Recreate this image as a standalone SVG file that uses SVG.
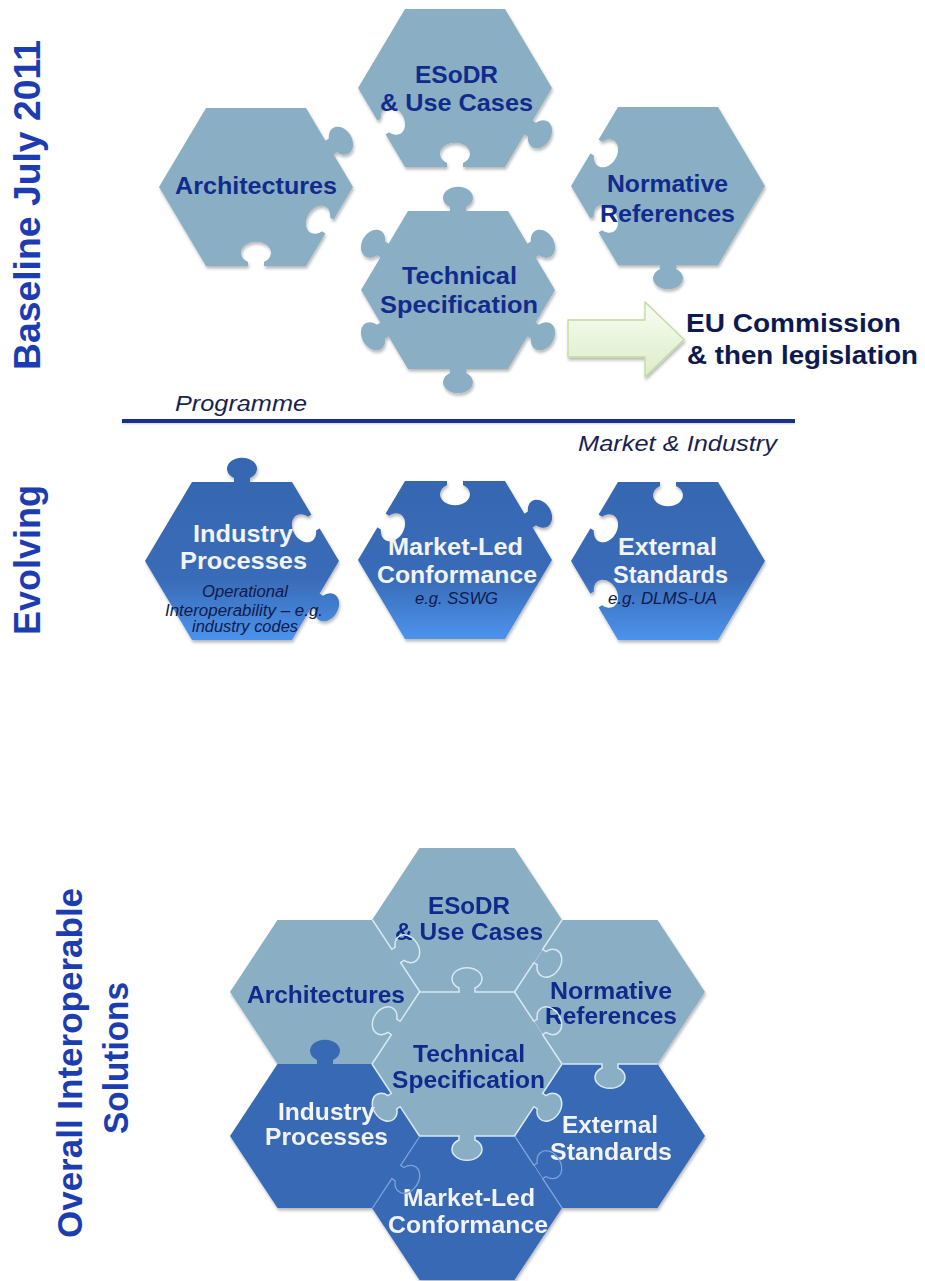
<svg xmlns="http://www.w3.org/2000/svg" width="925" height="1281" viewBox="0 0 925 1281">
<style>
text{font-family:"Liberation Sans",Arial,Helvetica,sans-serif}
.lt{fill:#8aaec4}
.ev{fill:url(#gEv)}
.cl{fill:#8aaec4}
.cd{fill:#3869b5}
.sl{fill:none;stroke:#d9e9f3;stroke-width:1.5}
.sd{fill:none;stroke:#7ba3dc;stroke-width:1.3}
.lb{font-weight:bold;font-size:24px;text-anchor:middle;fill:#112b8c}
.lw{font-weight:bold;font-size:24px;text-anchor:middle;fill:#f3f3f3}
.c23{font-size:23px}
.it{font-style:italic;font-size:16px;text-anchor:middle;fill:#111a4a}
.side{font-weight:bold;font-size:36px;text-anchor:middle;fill:#1c3cb2}
.eu{font-weight:bold;font-size:26px;fill:#0e1a4f}
.pg{font-style:italic;font-size:22px;fill:#1a1f50}
</style>
<defs>
<polygon id="hx" points="-97,0 -50,-79 50,-79 97,0 50,79 -50,79"/>
<polygon id="hc" points="-95,0 -47.5,-72 47.5,-72 95,0 47.5,72 -47.5,72"/>
<path id="tf" d="M-8,2.5 L-8,-4 A15,11 0 1 1 8,-4 L8,2.5 Z"/>
<path id="sH" d="M-47.5,0 L-8,0 L-8,-4 A15,11 0 1 1 8,-4 L8,0 L47.5,0"/>
<path id="sS" d="M-43.13,0 L-8,0 L-8,-4 A15,11 0 1 1 8,-4 L8,0 L43.13,0"/>
<linearGradient id="gEv" gradientUnits="userSpaceOnUse" x1="0" y1="-79" x2="0" y2="79">
<stop offset="0" stop-color="#3667b1"/><stop offset="0.62" stop-color="#396cb8"/><stop offset="1" stop-color="#4c93ec"/>
</linearGradient>
<linearGradient id="gAr" x1="0" y1="0" x2="0" y2="1">
<stop offset="0" stop-color="#f8fcf3"/><stop offset="1" stop-color="#dcedc8"/>
</linearGradient>
<filter id="sh" x="-20%" y="-20%" width="140%" height="150%">
<feDropShadow dx="1" dy="2.5" stdDeviation="1.8" flood-color="#000" flood-opacity="0.28"/>
</filter>
<mask id="mE" maskUnits="userSpaceOnUse" x="-130" y="-130" width="260" height="260">
<use href="#hx" fill="#fff"/>
<use href="#tf" fill="#fff" transform="translate(73.5,39.5) rotate(120.75)"/>
<use href="#tf" fill="#000" transform="translate(-73.5,39.5) rotate(-120.75) scale(1,-1)"/>
<use href="#tf" fill="#000" transform="translate(0,79) rotate(180) scale(1,-1)"/>
</mask>
<mask id="mA" maskUnits="userSpaceOnUse" x="-130" y="-130" width="260" height="260">
<use href="#hx" fill="#fff"/>
<use href="#tf" fill="#fff" transform="translate(73.5,-39.5) rotate(59.25)"/>
<use href="#tf" fill="#000" transform="translate(73.5,39.5) rotate(120.75) scale(1,-1)"/>
<use href="#tf" fill="#000" transform="translate(0,79) rotate(180) scale(1,-1)"/>
</mask>
<mask id="mN" maskUnits="userSpaceOnUse" x="-130" y="-130" width="260" height="260">
<use href="#hx" fill="#fff"/>
<use href="#tf" fill="#fff" transform="translate(0,79) rotate(180)"/>
<use href="#tf" fill="#000" transform="translate(-73.5,-39.5) rotate(-59.25) scale(1,-1)"/>
<use href="#tf" fill="#000" transform="translate(-73.5,39.5) rotate(-120.75) scale(1,-1)"/>
</mask>
<mask id="mT" maskUnits="userSpaceOnUse" x="-130" y="-130" width="260" height="260">
<use href="#hx" fill="#fff"/>
<use href="#tf" fill="#fff" transform="translate(-73.5,-39.5) rotate(-59.25)"/>
<use href="#tf" fill="#fff" transform="translate(0,-79)"/>
<use href="#tf" fill="#fff" transform="translate(73.5,-39.5) rotate(59.25)"/>
<use href="#tf" fill="#fff" transform="translate(73.5,39.5) rotate(120.75)"/>
<use href="#tf" fill="#fff" transform="translate(0,79) rotate(180)"/>
<use href="#tf" fill="#fff" transform="translate(-73.5,39.5) rotate(-120.75)"/>
</mask>
<mask id="mI" maskUnits="userSpaceOnUse" x="-130" y="-130" width="260" height="260">
<use href="#hx" fill="#fff"/>
<use href="#tf" fill="#fff" transform="translate(0,-79)"/>
<use href="#tf" fill="#fff" transform="translate(73.5,39.5) rotate(120.75)"/>
<use href="#tf" fill="#000" transform="translate(73.5,-39.5) rotate(59.25) scale(1,-1)"/>
</mask>
<mask id="mM" maskUnits="userSpaceOnUse" x="-130" y="-130" width="260" height="260">
<use href="#hx" fill="#fff"/>
<use href="#tf" fill="#fff" transform="translate(73.5,-39.5) rotate(59.25)"/>
<use href="#tf" fill="#000" transform="translate(0,-79) scale(1,-1)"/>
<use href="#tf" fill="#000" transform="translate(-73.5,-39.5) rotate(-59.25) scale(1,-1)"/>
</mask>
<mask id="mX" maskUnits="userSpaceOnUse" x="-130" y="-130" width="260" height="260">
<use href="#hx" fill="#fff"/>
<use href="#tf" fill="#000" transform="translate(0,-79) scale(1,-1)"/>
<use href="#tf" fill="#000" transform="translate(-73.5,-39.5) rotate(-59.25) scale(1,-1)"/>
<use href="#tf" fill="#000" transform="translate(-73.5,39.5) rotate(-120.75) scale(1,-1)"/>
</mask>
</defs>

<rect width="925" height="1281" fill="#fff"/>

<!-- side labels -->
<text class="side" transform="translate(40,205) rotate(-90)" textLength="330" lengthAdjust="spacingAndGlyphs">Baseline July 2011</text>
<text class="side" transform="translate(40,560) rotate(-90)">Evolving</text>
<text class="side" style="font-size:35px" transform="translate(82,1063) rotate(-90)">Overall Interoperable</text>
<text class="side" style="font-size:35px" transform="translate(128,1058) rotate(-90)" textLength="152" lengthAdjust="spacingAndGlyphs">Solutions</text>

<!-- baseline pieces -->
<g id="n-esodr" transform="translate(455,88)">
<g filter="url(#sh)"><rect class="lt" x="-125" y="-112" width="250" height="224" mask="url(#mE)"/></g>
<text class="lb" x="1.5" y="-5" textLength="83" lengthAdjust="spacingAndGlyphs">ESoDR</text>
<text class="lb" x="1.5" y="23" textLength="153" lengthAdjust="spacingAndGlyphs">&amp; Use Cases</text>
</g>
<g id="n-architectures" transform="translate(256,187)">
<g filter="url(#sh)"><rect class="lt" x="-125" y="-112" width="250" height="224" mask="url(#mA)"/></g>
<text class="lb" x="0" y="7" textLength="162" lengthAdjust="spacingAndGlyphs">Architectures</text>
</g>
<g id="n-normative" transform="translate(668,186)">
<g filter="url(#sh)"><rect class="lt" x="-125" y="-112" width="250" height="224" mask="url(#mN)"/></g>
<text class="lb" x="-0.5" y="6" textLength="121" lengthAdjust="spacingAndGlyphs">Normative</text>
<text class="lb" x="-0.5" y="36" textLength="135" lengthAdjust="spacingAndGlyphs">References</text>
</g>
<g id="n-technical" transform="translate(458,290)">
<g filter="url(#sh)"><rect class="lt" x="-125" y="-112" width="250" height="224" mask="url(#mT)"/></g>
<text class="lb" x="1.5" y="-6" textLength="115" lengthAdjust="spacingAndGlyphs">Technical</text>
<text class="lb" x="1" y="23" textLength="158" lengthAdjust="spacingAndGlyphs">Specification</text>
</g>

<g id="connectors">
<polygon points="568,320 645,320 645,302 684,339.5 645,377 645,357 568,357" fill="url(#gAr)" stroke="#c0dc9c" stroke-width="1.3" filter="url(#sh)"/>
</g>

<g id="n-eu">
<text class="eu" x="686" y="332" textLength="215" lengthAdjust="spacingAndGlyphs">EU Commission</text>
<text class="eu" x="687" y="364" textLength="231" lengthAdjust="spacingAndGlyphs">&amp; then legislation</text>
</g>

<!-- divider -->
<text class="pg" x="175" y="411" textLength="132" lengthAdjust="spacingAndGlyphs">Programme</text>
<line x1="122" y1="423" x2="795" y2="423" stroke="#000" stroke-opacity="0.12" stroke-width="3"/>
<line x1="122" y1="421" x2="795" y2="421" stroke="#1b2f8f" stroke-width="4"/>
<text class="pg" x="578" y="451" textLength="199" lengthAdjust="spacingAndGlyphs">Market &amp; Industry</text>

<!-- evolving pieces -->
<g id="n-industry" transform="translate(242,561)">
<g filter="url(#sh)"><rect class="ev" x="-125" y="-112" width="250" height="224" mask="url(#mI)"/></g>
<text class="lw" x="1" y="-19" textLength="100" lengthAdjust="spacingAndGlyphs">Industry</text>
<text class="lw" x="1.5" y="8" textLength="127" lengthAdjust="spacingAndGlyphs">Processes</text>
<text class="it" x="3" y="36" textLength="86" lengthAdjust="spacingAndGlyphs">Operational</text>
<text class="it" x="2" y="55" textLength="158" lengthAdjust="spacingAndGlyphs">Interoperability – e.g.</text>
<text class="it" x="3" y="71" textLength="106" lengthAdjust="spacingAndGlyphs">industry codes</text>
</g>
<g id="n-market" transform="translate(455,560)">
<g filter="url(#sh)"><rect class="ev" x="-125" y="-112" width="250" height="224" mask="url(#mM)"/></g>
<text class="lw" x="0.5" y="-5" textLength="135" lengthAdjust="spacingAndGlyphs">Market-Led</text>
<text class="lw" x="2" y="23" textLength="160" lengthAdjust="spacingAndGlyphs">Conformance</text>
<text class="it" x="1.5" y="44" textLength="83" lengthAdjust="spacingAndGlyphs">e.g. SSWG</text>
</g>
<g id="n-external" transform="translate(668,561)">
<g filter="url(#sh)"><rect class="ev" x="-125" y="-112" width="250" height="224" mask="url(#mX)"/></g>
<text class="lw" x="-0.5" y="-6" textLength="99" lengthAdjust="spacingAndGlyphs">External</text>
<text class="lw" x="2.5" y="22" textLength="115" lengthAdjust="spacingAndGlyphs">Standards</text>
<text class="it" x="-5.5" y="43" textLength="109" lengthAdjust="spacingAndGlyphs">e.g. DLMS-UA</text>
</g>

<!-- assembled cluster -->
<g id="cluster" filter="url(#sh)">
<g id="c-normative" transform="translate(610,992)">
<use href="#hc" class="cl"/>
<text class="lb c23" x="1" y="7" textLength="122" lengthAdjust="spacingAndGlyphs">Normative</text>
<text class="lb c23" x="1" y="32" textLength="132" lengthAdjust="spacingAndGlyphs">References</text>
</g>
<g id="c-esodr" transform="translate(467,920)">
<use href="#hc" class="cl"/>
<use href="#sS" class="sl" transform="translate(71.25,36) rotate(123.41)"/>
<text class="lb c23" x="2" y="-6" textLength="82" lengthAdjust="spacingAndGlyphs">ESoDR</text>
<text class="lb c23" x="2" y="20" textLength="148" lengthAdjust="spacingAndGlyphs">&amp; Use Cases</text>
</g>
<g id="c-architectures" transform="translate(325,992)">
<use href="#hc" class="cl"/>
<use href="#tf" class="cd" transform="translate(0,72) rotate(180) scale(1,-1)"/>
<use href="#sS" class="sl" transform="translate(71.25,-36) rotate(56.59)"/>
<text class="lb c23" x="1" y="11" textLength="158" lengthAdjust="spacingAndGlyphs">Architectures</text>
</g>
<g id="c-external" transform="translate(610,1136)">
<use href="#hc" class="cd"/>
<use href="#tf" class="cl" transform="translate(0,-72) scale(1,-1)"/>
<use href="#tf" class="cl" transform="translate(-71.25,-36) rotate(-56.59) scale(1,-1)"/>
<use href="#sH" class="sl" transform="translate(0,-72) scale(1,-1)"/>
<text class="lw c23" x="0" y="-3" textLength="96" lengthAdjust="spacingAndGlyphs">External</text>
<text class="lw c23" x="1" y="24" textLength="122" lengthAdjust="spacingAndGlyphs">Standards</text>
</g>
<g id="c-market" transform="translate(467,1208)">
<use href="#hc" class="cd"/>
<use href="#tf" class="cl" transform="translate(0,-72) scale(1,-1)"/>
<use href="#sS" class="sd" transform="translate(71.25,-36) rotate(56.59)"/>
<text class="lw c23" x="2" y="-2" textLength="132" lengthAdjust="spacingAndGlyphs">Market-Led</text>
<text class="lw c23" x="1" y="25" textLength="160" lengthAdjust="spacingAndGlyphs">Conformance</text>
</g>
<g id="c-industry" transform="translate(325,1136)">
<use href="#hc" class="cd"/>
<use href="#tf" class="cl" transform="translate(71.25,-36) rotate(56.59) scale(1,-1)"/>
<use href="#sS" class="sd" transform="translate(71.25,36) rotate(123.41)"/>
<text class="lw c23" x="1.5" y="-16" textLength="97" lengthAdjust="spacingAndGlyphs">Industry</text>
<text class="lw c23" x="1.5" y="9" textLength="123" lengthAdjust="spacingAndGlyphs">Processes</text>
</g>
<g id="c-technical" transform="translate(467,1064)">
<use href="#hc" class="cl"/>
<use href="#sS" class="sl" transform="translate(-71.25,-36) rotate(-56.59)"/>
<use href="#sH" class="sl" transform="translate(0,-72)"/>
<use href="#sS" class="sl" transform="translate(71.25,-36) rotate(56.59)"/>
<use href="#sS" class="sl" transform="translate(71.25,36) rotate(123.41)"/>
<use href="#sH" class="sl" transform="translate(0,72) rotate(180)"/>
<use href="#sS" class="sl" transform="translate(-71.25,36) rotate(-123.41)"/>
<text class="lb c23" x="2" y="-2" textLength="112" lengthAdjust="spacingAndGlyphs">Technical</text>
<text class="lb c23" x="1.5" y="24" textLength="153" lengthAdjust="spacingAndGlyphs">Specification</text>
</g>
</g>
</svg>
